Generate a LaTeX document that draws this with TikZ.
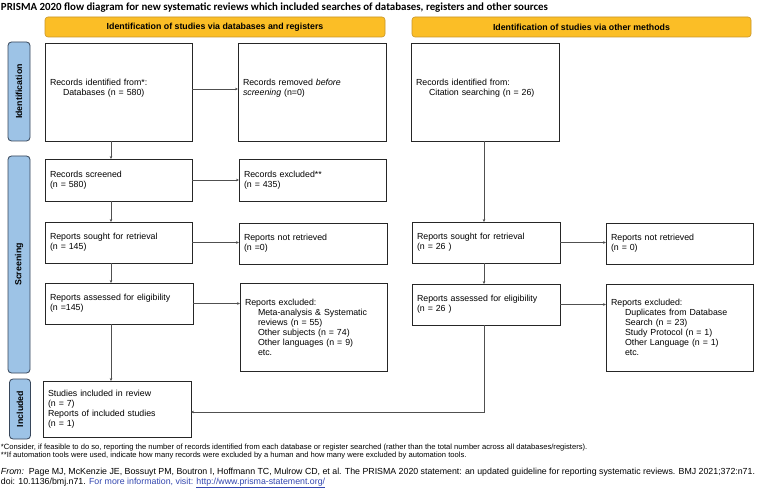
\documentclass[tikz,border=0pt]{standalone}
\usepackage{fontspec}
\setmainfont{Liberation Sans}
\newfontfamily\titlefont{Carlito}
\usetikzlibrary{arrows.meta}
\definecolor{hdr}{RGB}{251,190,38}
\definecolor{hdrline}{RGB}{200,150,40}
\definecolor{side}{RGB}{157,195,230}
\definecolor{sideline}{RGB}{55,70,90}
\definecolor{conn}{RGB}{80,80,80}
\definecolor{linkblue}{RGB}{50,70,175}
\begin{document}
\begin{tikzpicture}[x=1pt,y=-1pt,
  every node/.style={inner sep=0pt,outer sep=0pt},
  box/.style={draw=black!85,line width=0.8pt,fill=white,inner xsep=5pt,
    align=left,anchor=center,font=\fontsize{8.8}{10}\selectfont},
  hdrbox/.style={draw=hdrline,line width=0.6pt,fill=hdr,rounded corners=3pt,
    anchor=center,font=\bfseries\fontsize{8.8}{10}\selectfont,minimum height=20pt},
  sidebar/.style={draw=sideline,line width=0.8pt,fill=side,rounded corners=3.5pt,
    anchor=center,rotate=90,font=\bfseries\fontsize{8.8}{10}\selectfont},
  conn/.style={draw=conn,line width=0.7pt,-{Stealth[length=3pt,width=2.6pt]}},
  note/.style={anchor=west,align=left,font=\fontsize{7.6}{8.5}\selectfont},
  srcnote/.style={anchor=west,align=left,font=\fontsize{8.8}{10}\selectfont}
]
\fill[white] (0,0) rectangle (763,489);
\useasboundingbox (0,0) rectangle (763,489);

% title
\node[anchor=west,font=\titlefont\bfseries\fontsize{10.9}{12}\selectfont] (title) at (1,8)
  {PRISMA 2020 flow diagram for new systematic reviews which included searches of databases, registers and other sources};

% headers
\node[hdrbox,minimum width=340pt] (hL) at (215,27) {Identification of studies via databases and registers};
\node[hdrbox,minimum width=339pt] (hR) at (581.5,27) {Identification of studies via other methods};

% side bars
\node[sidebar,minimum width=99pt,minimum height=22pt] (sI) at (19,91.5) {Identification};
\node[sidebar,minimum width=217pt,minimum height=22pt] (sS) at (19,264.5) {Screening};
\node[sidebar,minimum width=60pt,minimum height=21pt] (sU) at (20,409) {Included};

% column coordinates
\coordinate (cL) at (111,0);
\coordinate (cR) at (484,0);

% left column
\node[box,text width=137pt,minimum height=98pt] (id1) at (118.5,92)
  {Records identified from*:\\\hspace*{13pt}Databases (n = 580)\\\mbox{}};
\node[box,text width=138pt,minimum height=98pt] (rem) at (312,92)
  {Records removed \textit{before}\\\textit{screening} (n=0)\\\mbox{}};
\node[box,text width=137pt,minimum height=42pt] (scr) at (118.5,180)
  {Records screened\\(n = 580)};
\node[box,text width=137pt,minimum height=42pt] (exc) at (312.5,180)
  {Records excluded**\\(n = 435)};
\node[box,text width=137pt,minimum height=41pt] (sought1) at (118.5,242.5)
  {Reports sought for retrieval\\(n = 145)};
\node[box,text width=138pt,minimum height=41pt] (notret1) at (313,243.5)
  {Reports not retrieved\\(n =0)};
\node[box,text width=138pt,minimum height=41pt] (assess1) at (119,303.5)
  {Reports assessed for eligibility\\(n =145)};
\node[box,text width=137pt,minimum height=88pt] (excl1) at (313.5,327)
  {Reports excluded:\\\hspace*{13pt}Meta-analysis \& Systematic\\\hspace*{13pt}reviews (n = 55)\\\hspace*{13pt}Other subjects (n = 74)\\\hspace*{13pt}Other languages (n = 9)\\\hspace*{13pt}etc.};
\node[box,text width=138pt,minimum height=56pt] (incl) at (117,409)
  {Studies included in review\\(n = 7)\\Reports of included studies\\(n = 1)};

% right column
\node[box,text width=138pt,minimum height=98pt] (id2) at (485,92)
  {Records identified from:\\\hspace*{13pt}Citation searching (n = 26)\\\mbox{}};
\node[box,text width=138pt,minimum height=41pt] (sought2) at (486,242.5)
  {Reports sought for retrieval\\(n = 26 )};
\node[box,text width=137pt,minimum height=41pt] (notret2) at (679.5,243.5)
  {Reports not retrieved\\(n = 0)};
\node[box,text width=138pt,minimum height=41pt] (assess2) at (486,304.5)
  {Reports assessed for eligibility\\(n = 26 )};
\node[box,text width=137pt,minimum height=87pt] (excl2) at (679.5,327.5)
  {Reports excluded:\\\hspace*{14pt}Duplicates from Database\\\hspace*{14pt}Search (n = 23)\\\hspace*{14pt}Study Protocol (n = 1)\\\hspace*{14pt}Other Language (n = 1)\\\hspace*{14pt}etc.};

% connectors left
\draw[conn] (id1.south -| cL) -- (scr.north -| cL);
\draw[conn] (scr.south -| cL) -- (sought1.north -| cL);
\draw[conn] (sought1.south -| cL) -- (assess1.north -| cL);
\draw[conn] (assess1.south -| cL) -- (incl.north -| cL);
\draw[conn] ([yshift=3pt]id1.east) -- ([yshift=3pt]rem.west);
\draw[conn] (scr.east) -- (exc.west);
\draw[conn] (sought1.east) -- (sought1.east -| notret1.west);
\draw[conn] (assess1.east) -- (assess1.east -| excl1.west);

% connectors right
\draw[conn] (id2.south -| cR) -- (sought2.north -| cR);
\draw[conn] (sought2.south -| cR) -- (assess2.north -| cR);
\draw[conn] (sought2.east) -- (sought2.east -| notret2.west);
\draw[conn] (assess2.east) -- (assess2.east -| excl2.west);
\draw[conn] (assess2.south -| cR) |- ([yshift=-3pt]incl.east);

% notes
\node[note] (fn1) at (1,448) {*Consider, if feasible to do so, reporting the number of records identified from each database or register searched (rather than the total number across all databases/registers).};
\node[note] (fn2) at (1,456) {**If automation tools were used, indicate how many records were excluded by a human and how many were excluded by automation tools.};
\node[srcnote] (from1) at (1,472) {\textit{From:}\ \ Page MJ, McKenzie JE, Bossuyt PM, Boutron I, Hoffmann TC, Mulrow CD, et al. The PRISMA 2020 statement: an updated guideline for reporting systematic reviews. BMJ 2021;372:n71.};
\node[srcnote] (from2) at (1,483) {doi: 10.1136/bmj.n71. {\color{linkblue}For more information, visit: \underline{http://www.prisma-statement.org/}}};
\end{tikzpicture}
\end{document}
